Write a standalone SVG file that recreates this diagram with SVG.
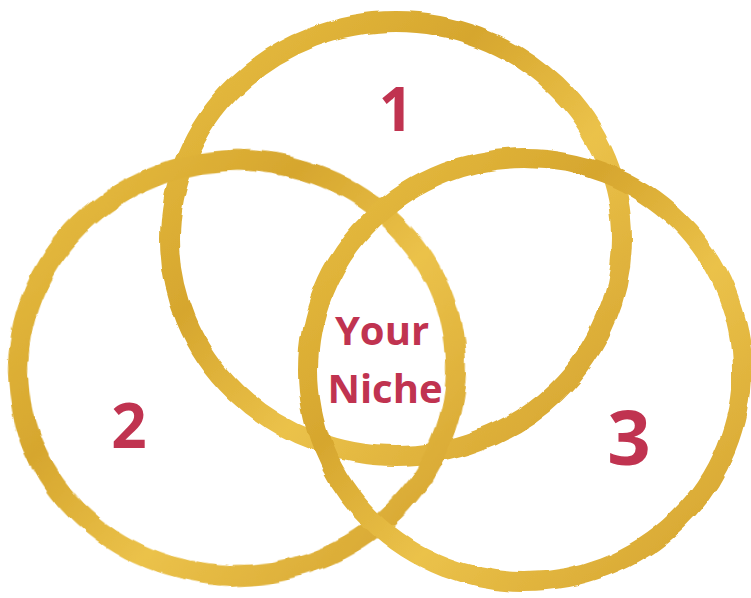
<svg xmlns="http://www.w3.org/2000/svg" width="751" height="598" viewBox="0 0 751 598">
<defs>
<linearGradient id="gold" x1="0" y1="0" x2="1" y2="1">
<stop offset="0" stop-color="#e9c044"/>
<stop offset="0.35" stop-color="#d6a62e"/>
<stop offset="0.6" stop-color="#ebc24a"/>
<stop offset="1" stop-color="#d2a02c"/>
</linearGradient>
<filter id="rough" x="-5%" y="-5%" width="110%" height="110%">
<feTurbulence type="fractalNoise" baseFrequency="0.03" numOctaves="2" seed="3" result="n"/>
<feDisplacementMap in="SourceGraphic" in2="n" scale="7" xChannelSelector="R" yChannelSelector="G"/>
</filter>
<style>
.ring{fill:none;stroke:url(#gold);stroke-width:20;filter:url(#rough)}
.lbl{fill:#c03350;font-family:"Open Sans","Liberation Sans",sans-serif;font-weight:700;text-anchor:middle}
</style>
</defs>
<rect width="751" height="598" fill="#ffffff"/>
<g id="connectors"/>
<g id="ring1"><ellipse class="ring" cx="396" cy="239" rx="226" ry="217"/></g>
<g id="ring2"><ellipse class="ring" cx="237" cy="368" rx="219" ry="207" transform="rotate(-4 237 368)"/></g>
<g id="ring3"><ellipse class="ring" cx="525" cy="370" rx="217" ry="212"/></g>
<g id="label1"><text class="lbl" x="396" y="131" font-size="60">1</text></g>
<g id="label2"><text class="lbl" x="129" y="448" font-size="62">2</text></g>
<g id="label3"><text class="lbl" x="629" y="465" font-size="76">3</text></g>
<g id="niche">
<text class="lbl" x="382" y="345" font-size="40">Your</text>
<text class="lbl" x="385" y="403" font-size="40">Niche</text>
</g>
</svg>
